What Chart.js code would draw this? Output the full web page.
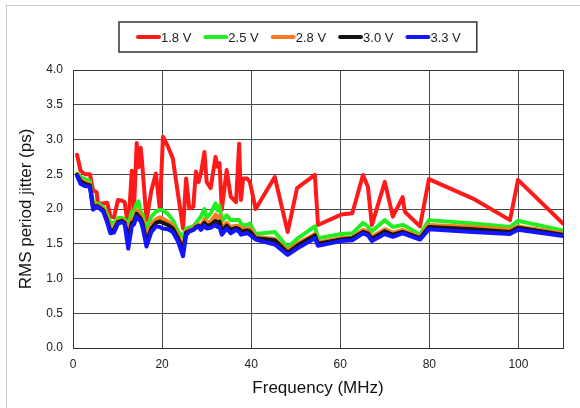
<!DOCTYPE html>
<html>
<head>
<meta charset="utf-8">
<script src="https://cdn.jsdelivr.net/npm/chart.js@4.4.0/dist/chart.umd.min.js"></script>
<style>
  html, body { margin: 0; padding: 0; background: #fff; }
</style>
</head>
<body>
<canvas id="chart-jitter" width="580" height="408"></canvas>
<script>
// measured frequencies (MHz), shared by all five supply voltages
const freqMHz = [0.9, 1.7, 2.7, 3.8, 4.5, 5.3, 5.6, 6.8, 7.7, 8.4, 9.2, 10.1, 11.0, 11.6, 12.4, 13.2, 13.7, 14.3, 14.7, 15.2,
  15.6, 16.5, 17.6, 18.6, 19.5, 20.2, 21.3, 22.4, 23.6, 24.7, 25.4, 26.1, 27.0, 27.6, 28.2, 28.7, 29.5, 30.0, 30.9, 32.0,
  32.4, 32.9, 33.4, 34.5, 35.4, 36.6, 37.3, 37.7, 38.2, 39.1, 39.7, 41.0, 45.3, 48.2, 50.3, 54.3, 55.0, 60.2, 62.7, 65.1,
  66.2, 67.1, 70.0, 71.8, 74.0, 74.5, 77.9, 79.9, 89.8, 98.1, 99.9, 110];

// RMS period jitter (ps)
const jitter18 = [2.78, 2.55, 2.50, 2.50, 2.27, 2.24, 2.08, 2.08, 2.09, 1.89, 1.88, 2.13, 2.12, 2.10, 1.72, 2.55, 2.00, 2.95, 2.60, 2.88,
  2.60, 1.84, 2.27, 2.51, 2.00, 3.04, 2.90, 2.73, 2.20, 1.72, 2.44, 2.01, 2.03, 2.54, 2.39, 2.51, 2.82, 2.39, 2.30, 2.75,
  2.61, 2.66, 1.99, 2.56, 2.18, 2.10, 2.94, 2.13, 2.44, 2.44, 2.39, 2.00, 2.46, 1.67, 2.30, 2.49, 1.77, 1.92, 1.94, 2.49,
  2.32, 1.77, 2.39, 1.89, 2.17, 1.96, 1.75, 2.43, 2.15, 1.84, 2.42, 1.79];
const jitter25 = [2.51, 2.46, 2.43, 2.40, 2.10, 2.08, 2.08, 2.03, 1.92, 1.80, 1.80, 1.87, 1.87, 1.85, 1.76, 1.96, 1.97, 2.08, 2.11, 1.96,
  1.92, 1.70, 1.89, 1.96, 1.99, 1.98, 1.93, 1.84, 1.68, 1.60, 1.72, 1.73, 1.75, 1.80, 1.85, 1.89, 2.00, 1.87, 1.94, 2.08,
  1.98, 2.05, 1.82, 1.91, 1.84, 1.84, 1.84, 1.79, 1.77, 1.77, 1.79, 1.64, 1.67, 1.45, 1.57, 1.75, 1.58, 1.64, 1.65, 1.80,
  1.75, 1.68, 1.84, 1.74, 1.77, 1.76, 1.63, 1.84, 1.79, 1.74, 1.83, 1.69];
const jitter28 = [2.50, 2.42, 2.38, 2.36, 2.05, 2.06, 2.05, 2.00, 1.86, 1.72, 1.74, 1.83, 1.84, 1.82, 1.68, 1.85, 1.86, 1.98, 1.96, 1.90,
  1.85, 1.58, 1.78, 1.85, 1.88, 1.86, 1.82, 1.76, 1.62, 1.45, 1.68, 1.70, 1.72, 1.76, 1.78, 1.76, 1.85, 1.80, 1.82, 1.92,
  1.88, 1.90, 1.72, 1.80, 1.74, 1.76, 1.75, 1.72, 1.72, 1.71, 1.72, 1.60, 1.57, 1.40, 1.50, 1.64, 1.52, 1.58, 1.59, 1.70,
  1.68, 1.60, 1.71, 1.66, 1.70, 1.68, 1.60, 1.77, 1.74, 1.70, 1.75, 1.65];
const jitter30 = [2.49, 2.40, 2.36, 2.34, 2.02, 2.04, 2.04, 1.98, 1.83, 1.68, 1.70, 1.81, 1.83, 1.80, 1.58, 1.80, 1.82, 1.93, 1.90, 1.86,
  1.80, 1.52, 1.72, 1.80, 1.82, 1.80, 1.77, 1.72, 1.58, 1.40, 1.66, 1.68, 1.70, 1.74, 1.76, 1.73, 1.80, 1.76, 1.77, 1.83,
  1.80, 1.82, 1.68, 1.76, 1.70, 1.73, 1.71, 1.68, 1.68, 1.69, 1.68, 1.58, 1.55, 1.37, 1.47, 1.62, 1.50, 1.56, 1.58, 1.67,
  1.65, 1.57, 1.68, 1.63, 1.67, 1.66, 1.58, 1.74, 1.71, 1.67, 1.73, 1.63];
const jitter33 = [2.48, 2.36, 2.33, 2.32, 1.99, 2.03, 2.03, 1.96, 1.80, 1.65, 1.66, 1.79, 1.81, 1.78, 1.43, 1.75, 1.78, 1.89, 1.86, 1.82,
  1.74, 1.46, 1.67, 1.75, 1.74, 1.72, 1.71, 1.67, 1.53, 1.32, 1.62, 1.68, 1.70, 1.73, 1.75, 1.70, 1.76, 1.72, 1.73, 1.77,
  1.74, 1.74, 1.63, 1.72, 1.65, 1.70, 1.67, 1.63, 1.64, 1.65, 1.63, 1.56, 1.49, 1.34, 1.43, 1.58, 1.47, 1.54, 1.55, 1.65,
  1.62, 1.54, 1.64, 1.60, 1.65, 1.64, 1.56, 1.71, 1.67, 1.64, 1.70, 1.61];

const seriesLabels = ['1.8 V', '2.5 V', '2.8 V', '3.0 V', '3.3 V'];
const seriesValues = [jitter18, jitter25, jitter28, jitter30, jitter33];
const seriesColors = ['#ff1a1a', '#22ee22', '#ff7a1f', '#141414', '#1414ff'];

const xTickValues = [0, 20, 40, 60, 80, 100];
const yTickLabels = ['0.0', '0.5', '1.0', '1.5', '2.0', '2.5', '3.0', '3.5', '4.0'];

const FONT = '"Liberation Sans", Arial, sans-serif';

// white page with the grey frame on the top/left edge
const pageFrame = {
  id: 'pageFrame',
  beforeDraw(chart) {
    const ctx = chart.ctx;
    ctx.save();
    ctx.fillStyle = '#fff';
    ctx.fillRect(0, 0, chart.width, chart.height);
    ctx.strokeStyle = '#c8c8c8';
    ctx.lineWidth = 1;
    ctx.strokeRect(6.5, 5.5, chart.width + 20, chart.height + 20);
    ctx.restore();
  },
  afterDatasetsDraw(chart) {
    const {ctx, chartArea: a} = chart;
    ctx.save();
    ctx.strokeStyle = '#333';
    ctx.lineWidth = 1;
    ctx.strokeRect(Math.round(a.left) + 0.5, Math.round(a.top) + 0.5, Math.round(a.right - a.left), Math.round(a.bottom - a.top));
    ctx.restore();
  }
};

// boxed legend, short line right before each label
const boxedLegend = {
  id: 'boxedLegend',
  afterDraw(chart) {
    const ctx = chart.ctx;
    ctx.save();
    ctx.font = '13px ' + FONT;
    const lineW = 25, gap = 12;
    const items = chart.data.datasets.map(ds => ({label: ds.label, color: ds.borderColor, w: ctx.measureText(ds.label).width}));
    const total = items.reduce((s, it) => s + lineW + it.w, 0) + gap * (items.length - 1);
    let x = Math.round(298 - total / 2);
    const y = 37;
    ctx.strokeStyle = '#333';
    ctx.lineWidth = 1.5;
    ctx.strokeRect(x - 17, 22, total + 33, 30);
    ctx.textBaseline = 'middle';
    ctx.lineCap = 'round';
    items.forEach(it => {
      ctx.strokeStyle = it.color;
      ctx.lineWidth = 4;
      ctx.beginPath();
      ctx.moveTo(x + 2, y);
      ctx.lineTo(x + lineW - 2, y);
      ctx.stroke();
      ctx.fillStyle = '#222';
      ctx.fillText(it.label, x + lineW, y + 1);
      x += lineW + it.w + gap;
    });
    ctx.restore();
  }
};

const ctx = document.getElementById('chart-jitter').getContext('2d');

new Chart(ctx, {
  type: 'line',
  data: {
    datasets: seriesLabels.map((label, i) => ({
      label: label,
      data: freqMHz.map((f, j) => ({x: f, y: seriesValues[i][j]})),
      borderColor: seriesColors[i],
      backgroundColor: seriesColors[i],
      borderWidth: 4,
      pointRadius: 0,
      tension: 0,
      borderJoinStyle: 'round',
      borderCapStyle: 'round',
      fill: false,
      order: seriesLabels.length - i,
    })),
  },
  options: {
    responsive: false,
    animation: false,
    devicePixelRatio: 1,
    layout: {
      padding: { top: 70, right: 17, bottom: 0, left: 0 },
    },
    plugins: {
      legend: { display: false },
      tooltip: { enabled: false },
    },
    scales: {
      x: {
        type: 'linear',
        min: 0,
        max: 110,
        afterFit: (scale) => { scale.height = 60; },
        afterBuildTicks: (scale) => { scale.ticks = xTickValues.map(v => ({value: v})); },
        grid: {
          color: '#4a4a4a',
          lineWidth: 1,
          drawTicks: false,
        },
        border: { display: true, color: '#222', width: 1 },
        ticks: {
          padding: 9,
          color: '#222',
          font: { size: 12, family: FONT },
          maxRotation: 0,
        },
        title: {
          display: true,
          text: 'Frequency (MHz)',
          color: '#111',
          font: { size: 17, family: FONT },
          padding: { top: 0, bottom: 9 },
        },
      },
      y: {
        min: 0,
        max: 4,
        afterFit: (scale) => { scale.width = 73; },
        afterBuildTicks: (scale) => { scale.ticks = yTickLabels.map(t => ({value: parseFloat(t)})); },
        grid: {
          color: '#4a4a4a',
          lineWidth: 1,
          drawTicks: false,
        },
        border: { display: true, color: '#222', width: 1 },
        ticks: {
          padding: 10,
          color: '#222',
          font: { size: 12, family: FONT },
          callback: (v, i) => yTickLabels[i],
        },
        title: {
          display: true,
          text: 'RMS period jitter (ps)',
          color: '#111',
          font: { size: 17, family: FONT },
          padding: { top: 16, bottom: 0 },
        },
      },
    },
  },
  plugins: [pageFrame, boxedLegend],
});
</script>
</body>
</html>
